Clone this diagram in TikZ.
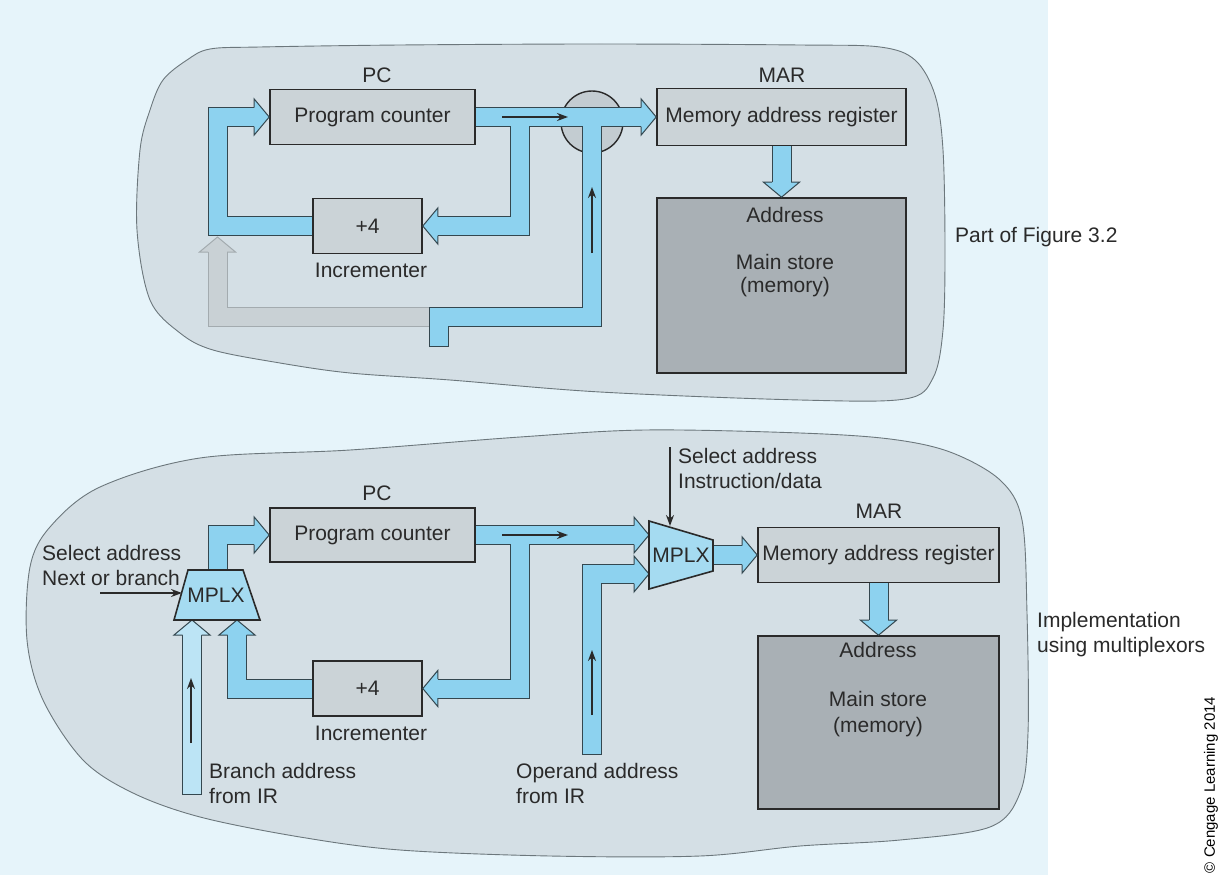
\documentclass[tikz,border=0pt]{standalone}
\usepackage{fontspec}
\setmainfont{Liberation Sans}
\usetikzlibrary{calc,arrows.meta}

\definecolor{panel}{HTML}{E6F4FA}
\definecolor{blobfill}{HTML}{D4DFE5}
\definecolor{blobline}{HTML}{6C777C}
\definecolor{regfill}{HTML}{CBD3D7}
\definecolor{storefill}{HTML}{A9B0B5}
\definecolor{junctfill}{HTML}{C3CCD1}
\definecolor{busblue}{HTML}{8DD2EF}
\definecolor{busedge}{HTML}{34474F}
\definecolor{irblue}{HTML}{BCE4F5}
\definecolor{muxfill}{HTML}{A5DBF1}
\definecolor{greybus}{HTML}{C9D1D5}
\definecolor{greyedge}{HTML}{A3ABAF}
\definecolor{ink}{HTML}{2A2A2A}

\tikzset{
  reg/.style={draw=ink, line width=1.6pt, fill=regfill, inner sep=0pt},
  store/.style={draw=ink, line width=1.6pt, fill=storefill, inner sep=0pt},
  lbl/.style={anchor=base, inner sep=0pt},
  lbll/.style={anchor=base west, inner sep=0pt},
  busout/.style={draw=busedge, line width=20pt, line join=miter, line cap=butt},
  busin/.style={draw=busblue, line width=18pt, line join=miter, line cap=butt},
  sig/.style={draw=ink, line width=1.5pt, -{Stealth[length=11pt,width=8pt]}},
  blob/.style={draw=blobline, line width=0.9pt, fill=blobfill},
  mux/.style={draw=ink, line width=1.6pt, fill=muxfill, line join=miter},
  pics/bushead/.style={code={%
    \filldraw[line width=1pt, line join=miter, #1]
      (-15,-9.5) -- (-15,-18) -- (0,0) -- (-15,18) -- (-15,9.5);}},
  pics/bushead/.default={fill=busblue,draw=busedge},
}

\begin{document}
\begin{tikzpicture}[x=1pt, y=-1pt, font=\fontsize{21}{25}\selectfont, text=ink]
\useasboundingbox (0,0) rectangle (1219,875);
\fill[white] (0,0) rectangle (1219,875);
\fill[panel] (0,0) rectangle (1048,875);

% outlines of the two regions
\draw[blob] plot[smooth cycle, tension=0.55] coordinates {
  (137,230) (140,150) (150,110) (163,80) (187,60) (210,49) (260,47)
  (400,45) (600,44) (800,45) (880,47) (915,60) (935,95) (943,150)
  (945,250) (943,330) (933,378) (905,399) (800,400) (600,392)
  (450,380) (350,373) (280,363) (213,350) (180,333) (150,300)};
\draw[blob] plot[smooth cycle, tension=0.55] coordinates {
  (100,487) (200,458) (350,450) (520,437) (645,430) (800,433) (890,439)
  (950,452) (1000,480) (1022,520) (1027,613) (1028,733) (1020,793)
  (990,827) (900,840) (800,846) (700,856) (550,856) (400,850)
  (300,837) (200,817) (133,793) (83,760) (43,700) (27,640) (30,567)
  (50,527)};

% ---------------- upper datapath ----------------
\node[circle, draw=ink, line width=1.4pt, fill=junctfill, minimum size=62pt] (junc) at (592,122) {};

\node[reg, minimum width=205, minimum height=55] (pcA) at (372.5,117) {Program counter};
\node[reg, minimum width=249, minimum height=57] (marA) at (781.5,117) {Memory address register};
\node[store, minimum width=249, minimum height=175] (memA) at (781.5,285.5) {};
\node[reg, minimum width=109, minimum height=55] (incA) at (367.5,226) {+4};

\node[lbl] (pcAl) at (377,82) {PC};
\node[lbl] (marAl) at (782,82) {MAR};
\node[lbl] (incAl) at (371,277) {Incrementer};
\node[lbl] (memAa) at (785,222) {Address};
\node[lbl] (memAb) at (785,269) {Main store};
\node[lbl] (memAc) at (785,292) {(memory)};

\def\tA{(pcA.east) -- ($(marA.west)+(-15,0)$)}
\def\tB{(519.5,117) -- (519.5,226) -- ($(incA.east)+(15,0)$)}
\def\tC{(incA.west) -- (217.5,226) -- (217.5,117) -- ($(pcA.west)+(-15,0)$)}
\def\tD{(439,346) -- (439,316.5) -- (592,316.5) -- (592,117)}
\def\tDo{(439,347) -- (439,316.5) -- (592,316.5) -- (592,117)}
\def\tF{(marA.south) -- ($(memA.north)+(0,-15)$)}

% faded return path
\draw[busout, draw=greyedge] (432,316.5) -- (217.5,316.5) -- (217.5,252);
\draw[busin, draw=greybus] (432,316.5) -- (217.5,316.5) -- (217.5,252);
\pic[rotate=90] at (217.5,237) {bushead={fill=greybus,draw=greyedge}};

\draw[busout] \tA; \draw[busout] \tB; \draw[busout] \tC;
\draw[busout] \tDo; \draw[busout] \tF;
\draw[busin] \tA; \draw[busin] \tB; \draw[busin] \tC;
\draw[busin] \tD; \draw[busin] \tF;

\pic at (marA.west) {bushead};
\pic[rotate=180] at (incA.east) {bushead};
\pic at (pcA.west) {bushead};
\pic[rotate=-90] at (memA.north) {bushead};

\draw[sig] (502,117) -- (568,117);
\draw[sig] (592,253) -- (592,187);

\node[lbll] (figref) at (955,242) {Part of Figure 3.2};

% ---------------- multiplexor datapath ----------------
\node[reg, minimum width=205, minimum height=54] (pcB) at (372.5,535) {Program counter};
\node[reg, minimum width=241, minimum height=55] (marB) at (878.5,555) {Memory address register};
\node[store, minimum width=241, minimum height=173] (memB) at (878.5,722.5) {};
\node[reg, minimum width=109, minimum height=55] (incB) at (367.5,688.5) {+4};

\node[lbl] (pcBl) at (377,500) {PC};
\node[lbl] (marBl) at (879,518) {MAR};
\node[lbl] (incBl) at (371,740) {Incrementer};
\node[lbl] (memBa) at (878,657) {Address};
\node[lbl] (memBb) at (878,706) {Main store};
\node[lbl] (memBc) at (878,732) {(memory)};

\coordinate (muxAtop) at (218,570);
\coordinate (muxAin1) at (192,620);
\coordinate (muxAin2) at (237,620);
\coordinate (muxBin1) at (649,535);
\coordinate (muxBin2) at (649,574);
\coordinate (muxBout) at (713,555);

\def\bG{(muxAtop) -- (218,535) -- ($(pcB.west)+(-15,0)$)}
\def\bH{(pcB.east) -- ($(muxBin1)+(-15,0)$)}
\def\bI{(519.5,535) -- (519.5,688.5) -- ($(incB.east)+(15,0)$)}
\def\bJ{(incB.west) -- (237,688.5) -- ($(muxAin2)+(0,15)$)}
\def\bL{(592,754) -- (592,574) -- ($(muxBin2)+(-15,0)$)}
\def\bLo{(592,755) -- (592,574) -- ($(muxBin2)+(-15,0)$)}
\def\bM{(muxBout) -- ($(marB.west)+(-15,0)$)}
\def\bN{(marB.south) -- ($(memB.north)+(0,-15)$)}

% branch address input
\draw[busout] (192,795) -- ($(muxAin1)+(0,15)$);
\draw[busin, draw=irblue] (192,794) -- ($(muxAin1)+(0,15)$);
\pic[rotate=90] at (muxAin1) {bushead={fill=irblue,draw=busedge}};

\draw[busout] \bG; \draw[busout] \bH; \draw[busout] \bI; \draw[busout] \bJ;
\draw[busout] \bLo; \draw[busout] \bM; \draw[busout] \bN;
\draw[busin] \bG; \draw[busin] \bH; \draw[busin] \bI; \draw[busin] \bJ;
\draw[busin] \bL; \draw[busin] \bM; \draw[busin] \bN;

\pic at (pcB.west) {bushead};
\pic at (muxBin1) {bushead};
\pic at (muxBin2) {bushead};
\pic[rotate=180] at (incB.east) {bushead};
\pic[rotate=90] at (muxAin2) {bushead};
\pic at (marB.west) {bushead};
\pic[rotate=-90] at (memB.north) {bushead};

% multiplexors
\draw[mux] (188,570) -- (243,570) -- (260,620) -- (174,620) -- cycle;
\node[lbl] (muxA) at (216,602) {MPLX};
\draw[mux] (649,521) -- (713,540) -- (713,571) -- (649,589) -- cycle;
\node[lbl] (muxB) at (681,562) {MPLX};

\draw[sig] (502,535) -- (568,535);
\draw[sig] (592,715) -- (592,650);
\draw[sig] (191,743) -- (191,678);
\coordinate (selA) at (100,593);
\coordinate (selB) at (670,447);
\draw[sig] (selA) -- (182,593);
\draw[sig] (selB) -- (670,526);

\node[lbll] at (42,560) {Select address};
\node[lbll] at (42,585) {Next or branch};
\node[lbll] at (678,463) {Select address};
\node[lbll] at (678,488) {Instruction/data};
\node[lbll] at (209,778) {Branch address};
\node[lbll] at (209,803) {from IR};
\node[lbll] at (516,778) {Operand address};
\node[lbll] at (516,803) {from IR};
\node[lbll] at (1037,627) {Implementation};
\node[lbll] at (1037,652) {using multiplexors};

\node[rotate=90, inner sep=0pt, font=\fontsize{15}{18}\selectfont, text=black] (copy) at (1211,785) {© Cengage Learning 2014};
\end{tikzpicture}
\end{document}
